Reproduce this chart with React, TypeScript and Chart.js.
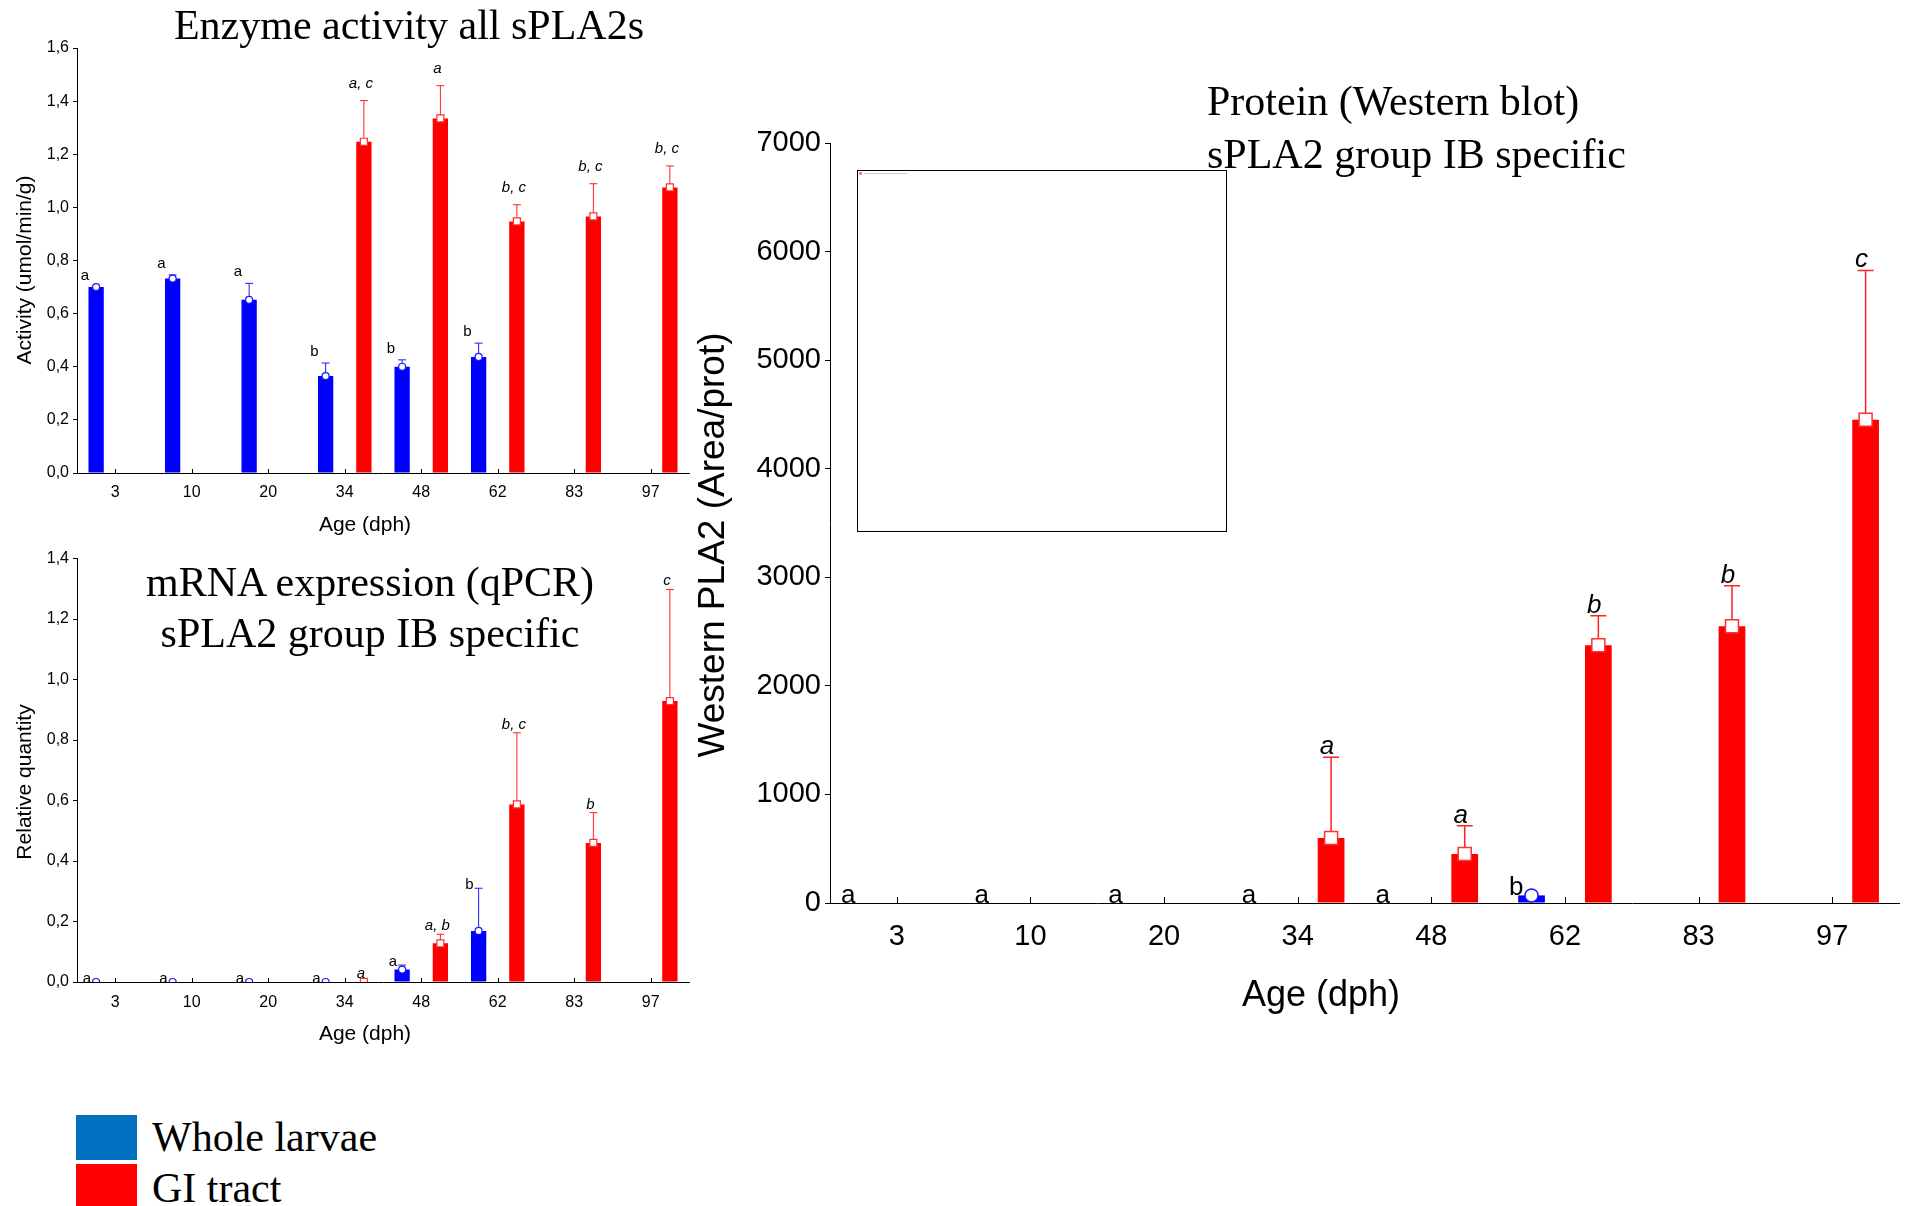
import React, { useEffect, useRef } from "react";
import { Chart, registerables } from "chart.js";
Chart.register(...registerables);

// ---------- data ----------
const ageLabels = ["3", "10", "20", "34", "48", "62", "83", "97"];

// Enzyme activity all sPLA2s
const activityTicks = [0, 0.2, 0.4, 0.6, 0.8, 1.0, 1.2, 1.4, 1.6];
const activityWhole = [0.70, 0.732, 0.652, 0.365, 0.40, 0.437, null, null];
const activityWholeErr = [0, 0.014, 0.062, 0.049, 0.026, 0.052, null, null];
const activityWholeLetters = ["a", "a", "a", "b", "b", "b", "", ""];
const activityGI = [null, null, null, 1.247, 1.335, 0.947, 0.966, 1.075];
const activityGIErr = [null, null, null, 0.155, 0.123, 0.063, 0.123, 0.081];
const activityGILetters = ["", "", "", "a, c", "a", "b, c", "b, c", "b, c"];

// mRNA expression (qPCR)
const mrnaTicks = [0, 0.2, 0.4, 0.6, 0.8, 1.0, 1.2, 1.4];
const mrnaWhole = [0, 0, 0, 0, 0.041, 0.169, null, null];
const mrnaWholeErr = [0, 0, 0, 0, 0.015, 0.141, null, null];
const mrnaWholeLetters = ["a", "a", "a", "a", "a", "b", "", ""];
const mrnaGI = [null, null, null, 0, 0.128, 0.587, 0.46, 0.929];
const mrnaGIErr = [null, null, null, 0, 0.03, 0.237, 0.10, 0.369];
const mrnaGILetters = ["", "", "", "a", "a, b", "b, c", "b", "c"];

// Western blot
const westernTicks = [0, 1000, 2000, 3000, 4000, 5000, 6000, 7000];
const westernWhole = [0, 0, 0, 0, 0, 70, null, null];
const westernWholeErr = [0, 0, 0, 0, 0, 0, null, null];
const westernWholeLetters = ["a", "a", "a", "a", "a", "b", "", ""];
const westernGI = [null, null, null, 598, 451, 2374, 2549, 4450];
const westernGIErr = [null, null, null, 744, 260, 271, 373, 1376];
const westernGILetters = ["", "", "", "a", "a", "b", "b", "c"];

// ---------- styling ----------
const SANS = '"Liberation Sans", Arial, Helvetica, sans-serif';
const SERIF = '"Liberation Serif", "Times New Roman", Times, serif';
const BLUE = "#0000ff";
const RED = "#ff0000";

type Series = {
  values: (number | null)[];
  errors: (number | null)[];
  letters: string[];
  color: string;
  errColor: string;
  markerStroke: string;
  marker: "circle" | "rect";
  italic: boolean;
  letterAlign: CanvasTextAlign;
  letterDx: number;
  letterDy: number;
};

type TextItem = { text: string; x: number; y: number; size: number; rotate?: boolean };

type PanelCfg = {
  left: number;
  top: number;
  w: number;
  h: number;
  padTop: number;
  padRight: number;
  yWidth: number;
  xHeight: number;
  ymax: number;
  ticks: number[];
  fmt: (v: number) => string;
  tickSize: number;
  yTickLen: number;
  yTickPad: number;
  xTickPad: number;
  xTickIn: number;
  series: Series[];
  markZero: boolean;
  markerR: number;
  markerLine: number;
  cap: number;
  errWidth: number;
  letterSize: number;
  texts: TextItem[];
};

function makeOverlay(cfg: PanelCfg) {
  return {
    id: "overlay",
    afterDatasetsDraw(chart: any) {
      const { ctx, chartArea } = chart;
      const yS = chart.scales.y;
      cfg.series.forEach((s, di) => {
        const meta = chart.getDatasetMeta(di);
        meta.data.forEach((bar: any, i: number) => {
          const v = s.values[i];
          if (v == null) return;
          const e = s.errors[i] || 0;
          const cx = bar.x;
          const yv = yS.getPixelForValue(v);
          const ye = yS.getPixelForValue(v + e);
          ctx.save();
          if (e > 0) {
            ctx.strokeStyle = s.errColor;
            ctx.lineWidth = cfg.errWidth;
            ctx.beginPath();
            ctx.moveTo(cx, yv);
            ctx.lineTo(cx, ye);
            ctx.moveTo(cx - cfg.cap, ye);
            ctx.lineTo(cx + cfg.cap, ye);
            ctx.stroke();
          }
          if (v > 0 || cfg.markZero) {
            ctx.beginPath();
            ctx.rect(chartArea.left, chartArea.top - 20, chartArea.right - chartArea.left, chartArea.bottom - chartArea.top + 20);
            ctx.clip();
            ctx.fillStyle = "#ffffff";
            ctx.strokeStyle = s.markerStroke;
            ctx.lineWidth = cfg.markerLine;
            ctx.beginPath();
            const r = cfg.markerR;
            if (s.marker === "circle") ctx.arc(cx, yv, r, 0, Math.PI * 2);
            else ctx.rect(cx - r, yv - r, r * 2, r * 2);
            ctx.fill();
            ctx.stroke();
          }
          ctx.restore();
          const t = s.letters[i];
          if (t) {
            ctx.save();
            ctx.font = `${s.italic ? "italic " : ""}${cfg.letterSize}px ${SANS}`;
            ctx.fillStyle = "#000";
            ctx.textAlign = s.letterAlign;
            ctx.textBaseline = "alphabetic";
            ctx.fillText(t, cx + s.letterDx, ye + s.letterDy);
            ctx.restore();
          }
        });
      });
    },
    afterDraw(chart: any) {
      const { ctx, chartArea } = chart;
      const xS = chart.scales.x;
      ctx.save();
      ctx.strokeStyle = "#000";
      ctx.lineWidth = 1;
      ctx.beginPath();
      for (let i = 0; i < xS.ticks.length; i++) {
        const px = Math.round(xS.getPixelForTick(i)) + 0.5;
        ctx.moveTo(px, chartArea.bottom);
        ctx.lineTo(px, chartArea.bottom - cfg.xTickIn);
      }
      ctx.stroke();
      cfg.texts.forEach((t) => {
        ctx.save();
        ctx.translate(t.x, t.y);
        if (t.rotate) ctx.rotate(-Math.PI / 2);
        ctx.font = `${t.size}px ${SANS}`;
        ctx.fillStyle = "#000";
        ctx.textAlign = "center";
        ctx.textBaseline = "middle";
        ctx.fillText(t.text, 0, 0);
        ctx.restore();
      });
      ctx.restore();
    },
  };
}

function BarPanel({ cfg }: { cfg: PanelCfg }) {
  const ref = useRef<HTMLCanvasElement>(null);
  useEffect(() => {
    const canvas = ref.current!;
    const chart = new Chart(canvas, {
      type: "bar",
      data: {
        labels: ageLabels,
        datasets: cfg.series.map((s) => ({
          data: s.values as any,
          backgroundColor: s.color,
          borderWidth: 0,
          categoryPercentage: 1.0,
          barPercentage: 0.4,
        })),
      },
      options: {
        responsive: false,
        animation: false,
        devicePixelRatio: 1,
        layout: { padding: { left: 0, top: cfg.padTop, right: cfg.padRight, bottom: 0 } },
        plugins: { legend: { display: false }, tooltip: { enabled: false }, title: { display: false } },
        scales: {
          x: {
            type: "category",
            afterFit: (s: any) => {
              s.height = cfg.xHeight;
            },
            ticks: {
              font: { family: SANS, size: cfg.tickSize },
              color: "#000",
              padding: cfg.xTickPad,
              autoSkip: false,
              maxRotation: 0,
            },
            grid: { display: false, drawTicks: false },
            border: { display: true, color: "#000", width: 1 },
          },
          y: {
            min: 0,
            max: cfg.ymax,
            afterFit: (s: any) => {
              s.width = cfg.yWidth;
            },
            afterBuildTicks: (s: any) => {
              s.ticks = cfg.ticks.map((v) => ({ value: v }));
            },
            ticks: {
              font: { family: SANS, size: cfg.tickSize },
              color: "#000",
              padding: cfg.yTickPad,
              callback: (v: any) => cfg.fmt(Number(v)),
            },
            grid: { display: true, drawOnChartArea: false, drawTicks: true, tickLength: cfg.yTickLen, color: "#000" },
            border: { display: true, color: "#000", width: 1 },
          },
        },
      },
      plugins: [makeOverlay(cfg)],
    });
    return () => chart.destroy();
  }, []);
  return (
    <div style={{ position: "absolute", left: cfg.left, top: cfg.top, width: cfg.w, height: cfg.h }}>
      <canvas ref={ref} width={cfg.w} height={cfg.h} style={{ display: "block", width: cfg.w, height: cfg.h }} />
    </div>
  );
}

const commaFmt = (v: number) => v.toFixed(1).replace(".", ",");
const intFmt = (v: number) => String(Math.round(v));

function makeSeries(values: any, errors: any, letters: string[], blue: boolean, variant: string): Series {
  let dx = 0, dy = 0;
  if (blue) {
    if (variant === "top") { dx = -7; dy = -7; }
    else if (variant === "bottom") { dx = -5; dy = 1; }
    else { dx = -8; dy = 0; }
  } else {
    if (variant === "top") { dx = -3; dy = -13; }
    else if (variant === "bottom") { dx = -3; dy = -4; }
    else { dx = -4; dy = -3; }
  }
  return {
    values,
    errors,
    letters,
    color: blue ? BLUE : RED,
    errColor: blue ? "#1a1aff" : "#ff2020",
    markerStroke: blue ? "#1a1aff" : "#ff3030",
    marker: blue ? "circle" : "rect",
    italic: !blue,
    letterAlign: blue ? "right" : "center",
    letterDx: dx,
    letterDy: dy,
  };
}

const activityCfg: PanelCfg = {
  left: 0, top: 0, w: 700, h: 545,
  padTop: 48, padRight: 11, yWidth: 77, xHeight: 72,
  ymax: 1.6, ticks: activityTicks, fmt: commaFmt,
  tickSize: 16, yTickLen: 4, yTickPad: 4, xTickPad: 9.5, xTickIn: 4,
  series: [
    makeSeries(activityWhole, activityWholeErr, activityWholeLetters, true, "top"),
    makeSeries(activityGI, activityGIErr, activityGILetters, false, "top"),
  ],
  markZero: false, markerR: 3.5, markerLine: 1.2, cap: 4, errWidth: 1, letterSize: 15,
  texts: [
    { text: "Activity (umol/min/g)", x: 25, y: 270, size: 21, rotate: true },
    { text: "Age (dph)", x: 365, y: 525, size: 21 },
  ],
};

const mrnaCfg: PanelCfg = {
  left: 0, top: 545, w: 700, h: 510,
  padTop: 13, padRight: 11, yWidth: 77, xHeight: 73,
  ymax: 1.4, ticks: mrnaTicks, fmt: commaFmt,
  tickSize: 16, yTickLen: 4, yTickPad: 4, xTickPad: 10.5, xTickIn: 4,
  series: [
    makeSeries(mrnaWhole, mrnaWholeErr, mrnaWholeLetters, true, "bottom"),
    makeSeries(mrnaGI, mrnaGIErr, mrnaGILetters, false, "bottom"),
  ],
  markZero: true, markerR: 3.5, markerLine: 1.2, cap: 4, errWidth: 1, letterSize: 15,
  texts: [
    { text: "Relative quantity", x: 25, y: 237, size: 21, rotate: true },
    { text: "Age (dph)", x: 365, y: 489, size: 21 },
  ],
};

const westernCfg: PanelCfg = {
  left: 690, top: 90, w: 1215, h: 930,
  padTop: 53, padRight: 6, yWidth: 140, xHeight: 117,
  ymax: 7000, ticks: westernTicks, fmt: intFmt,
  tickSize: 29, yTickLen: 5, yTickPad: 4, xTickPad: 17, xTickIn: 6,
  series: [
    makeSeries(westernWhole, westernWholeErr, westernWholeLetters, true, "right"),
    makeSeries(westernGI, westernGIErr, westernGILetters, false, "right"),
  ],
  markZero: false, markerR: 6.5, markerLine: 1.5, cap: 8, errWidth: 1.5, letterSize: 26,
  texts: [
    { text: "Western PLA2 (Area/prot)", x: 24, y: 455, size: 37, rotate: true },
    { text: "Age (dph)", x: 631, y: 906, size: 36 },
  ],
};

const titleStyle = (left: number, top: number, center: boolean): React.CSSProperties => ({
  position: "absolute",
  left,
  top,
  transform: center ? "translateX(-50%)" : undefined,
  font: `42px ${SERIF}`,
  lineHeight: "42px",
  whiteSpace: "nowrap",
  color: "#000",
});

export default function App() {
  return (
    <div
      style={{
        position: "absolute",
        left: 0,
        top: 0,
        width: 1905,
        height: 1206,
        overflow: "hidden",
        background: "#fff",
      }}
    >
      <BarPanel cfg={activityCfg} />
      <BarPanel cfg={mrnaCfg} />
      <BarPanel cfg={westernCfg} />

      <div style={titleStyle(409, 4, true)}>Enzyme activity all sPLA2s</div>
      <div style={titleStyle(370, 561, true)}>mRNA expression (qPCR)</div>
      <div style={titleStyle(370, 612, true)}>sPLA2 group IB specific</div>
      <div style={titleStyle(1207, 80, false)}>Protein (Western blot)</div>
      <div style={titleStyle(1207, 133, false)}>sPLA2 group IB specific</div>

      {/* inset box */}
      <div
        style={{
          position: "absolute",
          left: 857,
          top: 170,
          width: 368,
          height: 360,
          border: "1px solid #000",
          background: "transparent",
        }}
      >
        <div style={{ position: "absolute", left: 1, top: 1, width: 3, height: 3, background: "#e88" }} />
        <div style={{ position: "absolute", left: 6, top: 2, width: 44, height: 1, background: "#ccc" }} />
      </div>

      {/* legend */}
      <div style={{ position: "absolute", left: 76, top: 1115, width: 61, height: 45, background: "#0070c0" }} />
      <div style={{ position: "absolute", left: 76, top: 1164, width: 61, height: 42, background: "#ff0000" }} />
      <div style={titleStyle(152, 1116, false)}>Whole larvae</div>
      <div style={titleStyle(152, 1167, false)}>GI tract</div>
    </div>
  );
}
